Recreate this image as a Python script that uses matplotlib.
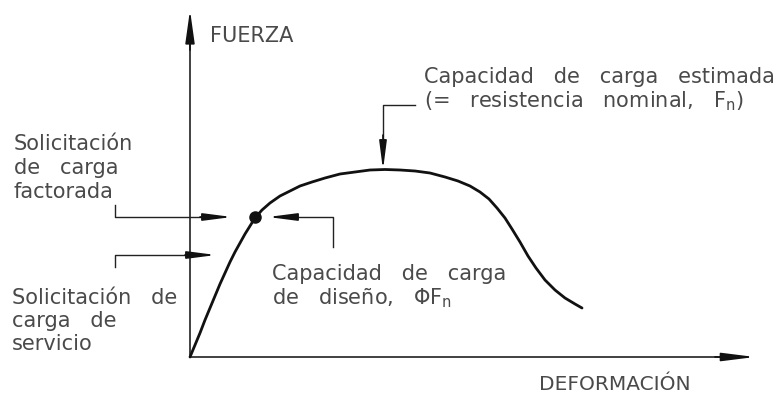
import matplotlib
matplotlib.use("Agg")
import matplotlib.pyplot as plt

# Curve (deformation, force), in picture units (y grows downward)
curve_x = [190, 195, 200, 205, 210, 215, 220, 225, 230, 235, 240, 245, 250, 255,
           262, 270, 280, 290, 300, 312, 325, 340, 355, 370, 385, 400, 415, 430,
           445, 458, 470, 480, 489, 497, 505, 512, 520, 528, 536, 545, 555, 565, 575, 582]
curve_y = [357, 345, 333, 320, 308, 296, 284, 273, 262, 252, 243, 234, 226, 218,
           210, 203, 196, 191, 186, 182, 178, 174, 172, 170, 169.5, 170, 171, 173,
           177, 181, 186, 192, 199, 208, 218, 229, 242, 256, 268, 280, 290, 298, 304, 308]

design_point = (255, 217)
peak_x = 383

axis_origin = (190, 357)
axis_top = 10
axis_right = 755

label_fuerza = "FUERZA"
label_deform = "DEFORMACIÓN"
label_estimada = "Capacidad   de   carga   estimada\n(=   resistencia   nominal,   F$_\\mathregular{n}$)"
label_factorada = "Solicitación\nde   carga\nfactorada"
label_servicio = "Solicitación   de\ncarga   de\nservicio"
label_diseno = "Capacidad   de   carga\nde   diseño,   ΦF$_\\mathregular{n}$"

fig = plt.figure(figsize=(7.8, 3.99), dpi=100)
ax = fig.add_axes([0, 0, 1, 1])
ax.set_xlim(0, 780)
ax.set_ylim(399, 0)
ax.axis("off")

lc = "#111111"
tc = "#4a4a4a"
fs = 15

def arrow(tail, tip, lw=1.2, hw=0.22, hl=1.7):
    ax.annotate("", xy=tip, xytext=tail,
                arrowprops=dict(arrowstyle=f"-|>,head_length={hl},head_width={hw}",
                                color=lc, lw=lw, shrinkA=0, shrinkB=0))

# axes
ax.plot([axis_origin[0], axis_right - 20], [axis_origin[1], axis_origin[1]], color="#333333", lw=1.3)
arrow((axis_right - 40, axis_origin[1]), (axis_right, axis_origin[1]), hw=0.25, hl=2.0)
ax.plot([axis_origin[0], axis_origin[0]], [axis_origin[1], axis_top + 20], color="#333333", lw=1.3)
arrow((axis_origin[0], axis_top + 40), (axis_origin[0], axis_top), hw=0.28, hl=2.0)

# curve
ax.plot(curve_x, curve_y, color=lc, lw=2.0, solid_capstyle="round", solid_joinstyle="round")
ax.plot(*design_point, marker="o", ms=8, color=lc)

# factored load leader (from left)
ax.plot([115, 115, 205], [205, design_point[1], design_point[1]], color="#222222", lw=1.0)
arrow((200, design_point[1]), (232, design_point[1]))
# design capacity leader (from right)
ax.plot([333, 333, 290], [247, design_point[1], design_point[1]], color="#222222", lw=1.0)
arrow((295, design_point[1]), (268, design_point[1]))
# service load leader
ax.plot([115, 115, 195], [267, 255, 255], color="#222222", lw=1.0)
arrow((185, 255), (216, 255))
# peak leader
ax.plot([415, peak_x, peak_x], [105, 105, 140], color="#222222", lw=1.0)
arrow((peak_x, 135), (peak_x, 170))

# texts
ax.text(210, 36, label_fuerza, fontsize=fs, color=tc, va="center", ha="left")
ax.text(539, 385, label_deform, fontsize=14.5, color=tc, va="center", ha="left")
ax.text(424, 90, label_estimada, fontsize=fs, color=tc, va="center", ha="left", linespacing=1.08)
ax.text(14, 168, label_factorada, fontsize=fs, color=tc, va="center", ha="left", linespacing=1.22)
ax.text(12, 321, label_servicio, fontsize=fs, color=tc, va="center", ha="left", linespacing=1.2)
ax.text(272, 287, label_diseno, fontsize=fs, color=tc, va="center", ha="left", linespacing=1.08)

fig.savefig("out.png", dpi=100)
